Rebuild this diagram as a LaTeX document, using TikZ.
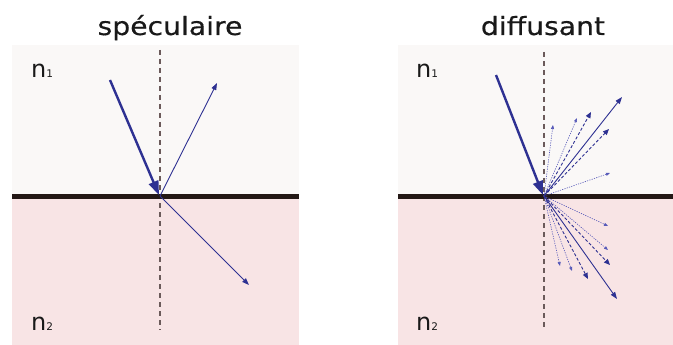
\documentclass[tikz,border=0pt]{standalone}
\usepackage{fontspec}
\setmainfont{DejaVu Sans}
\newfontfamily\titlefont[FakeStretch=1.13,FakeBold=0.4]{DejaVu Sans}
\usetikzlibrary{arrows.meta,calc}
\definecolor{topbg}{HTML}{FAF8F7}
\definecolor{botbg}{HTML}{F8E4E5}
\definecolor{ifc}{HTML}{231815}
\definecolor{normc}{HTML}{6B5A5A}
\definecolor{ray}{HTML}{2E3192}
\definecolor{rayl}{HTML}{5558B8}
\tikzset{
  incident/.style={draw=ray, line width=2.4pt, -{Triangle[length=14pt,width=10pt]}},
  mainray/.style={draw=ray, line width=0.9pt, -{Triangle[length=7pt,width=5pt]}},
  dashray/.style={draw=ray, line width=0.9pt, dash pattern=on 3pt off 2pt, -{Triangle[length=6pt,width=5pt]}},
  dotray/.style={draw=rayl, line width=0.6pt, dash pattern=on 1.2pt off 1.2pt, -{Triangle[length=4pt,width=3pt]}},
  normal/.style={draw=normc, line width=1.4pt, dash pattern=on 5pt off 4pt},
  interface/.style={draw=ifc, line width=5pt},
  title/.style={font=\titlefont\fontsize{25}{25}\selectfont, anchor=base, text=black!90},
  idx/.style={font=\fontsize{24}{24}\selectfont, anchor=base west, text=black!90, inner sep=0pt}
}
\newcommand{\nidx}[1]{n{\fontsize{10.5}{10.5}\selectfont #1}}
\begin{document}
\begin{tikzpicture}[x=1pt,y=-1pt]
\useasboundingbox (0,0) rectangle (673,345);
% backgrounds
\fill[topbg] (12,45) rectangle (299,196);
\fill[botbg] (12,196) rectangle (299,345);
\fill[topbg] (398,45) rectangle (673,196);
\fill[botbg] (398,196) rectangle (673,345);
% titles
\node[title] (t1) at (170,35) {spéculaire};
\node[title] (t2) at (543,35) {diffusant};
% labels
\node[idx] (la) at (31,78) {\nidx{1}};
\node[idx] (lb) at (31,330) {\nidx{2}};
\node[idx] (lc) at (416,78) {\nidx{1}};
\node[idx] (ld) at (416,330) {\nidx{2}};
% ---- left panel
\coordinate (O1) at (160,196);
\coordinate (I1) at (159,195);
\coordinate (N1a) at (160,50);
\coordinate (N1b) at (160,330);
\coordinate (S1) at (110,80);
\coordinate (R1) at (217,83);
\coordinate (T1) at (249,285);
\coordinate (H1a) at (12,196);
\coordinate (H1b) at (299,196);
\draw[normal] (N1a) -- (N1b);
\draw[interface] (H1a) -- (H1b);
\draw[mainray] (O1) -- (R1);
\draw[mainray] (O1) -- (T1);
\draw[incident] (S1) -- (I1);
% ---- right panel
\coordinate (O2) at (544,196);
\coordinate (I2) at (543,195);
\coordinate (N2a) at (544,52);
\coordinate (N2b) at (544,328);
\coordinate (H2a) at (398,196);
\coordinate (H2b) at (673,196);
\coordinate (S2) at (496,75);
\coordinate (R2) at (622,97);
\coordinate (R2a) at (591,112);
\coordinate (R2b) at (609,129);
\coordinate (R2c) at (553,125);
\coordinate (R2d) at (577,118);
\coordinate (R2e) at (610,173);
\coordinate (T2) at (617,299);
\coordinate (T2a) at (588,279);
\coordinate (T2b) at (610,265);
\coordinate (T2c) at (560,266);
\coordinate (T2d) at (572,271);
\coordinate (T2e) at (608,250);
\coordinate (T2f) at (608,226);
\draw[normal] (N2a) -- (N2b);
\draw[interface] (H2a) -- (H2b);
\foreach \p in {R2c,R2d,R2e,T2c,T2d,T2e,T2f} \draw[dotray] (O2) -- (\p);
\foreach \p in {R2a,R2b,T2a,T2b} \draw[dashray] (O2) -- (\p);
\draw[mainray] (O2) -- (R2);
\draw[mainray] (O2) -- (T2);
\draw[incident] (S2) -- (I2);
\end{tikzpicture}
\end{document}
